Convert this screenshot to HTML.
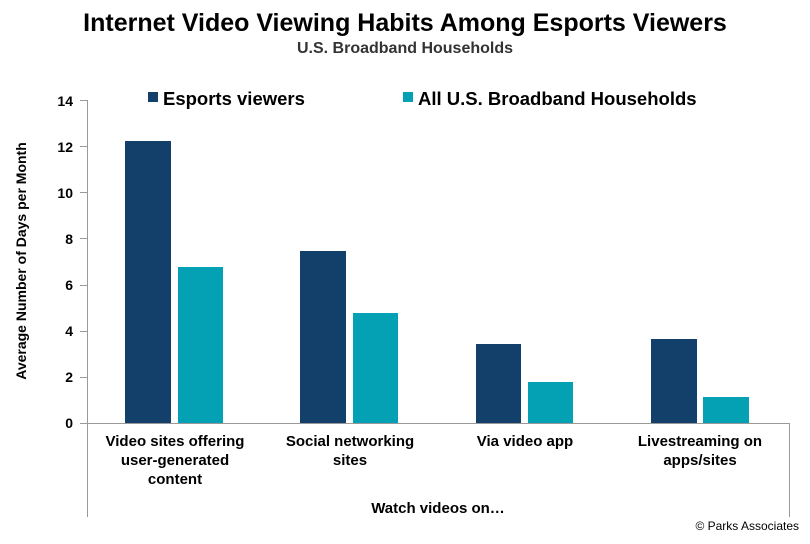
<!DOCTYPE html>
<html><head><meta charset="utf-8"><style>
body{margin:0;background:#fff;}
svg text{font-family:"Liberation Sans",Arial,sans-serif;font-weight:bold;fill:#000;}
</style></head><body>
<svg width="810" height="539" viewBox="0 0 810 539" xmlns="http://www.w3.org/2000/svg">
<rect width="810" height="539" fill="#fff"/>
<text x="405" y="31" font-size="25" text-anchor="middle">Internet Video Viewing Habits Among Esports Viewers</text>
<text x="405" y="53" font-size="16" text-anchor="middle" style="fill:#333">U.S. Broadband Households</text>
<rect x="148" y="92" width="10" height="10" fill="#12406b"/>
<text x="163" y="105" font-size="18.5">Esports viewers</text>
<rect x="403" y="92" width="10" height="10" fill="#04a0b4"/>
<text x="418" y="105" font-size="18.5">All U.S. Broadband Households</text>
<g font-size="14" text-anchor="end">
<text x="73" y="428">0</text><text x="73" y="382">2</text><text x="73" y="336">4</text><text x="73" y="290">6</text><text x="73" y="244">8</text><text x="73" y="198">10</text><text x="73" y="152">12</text><text x="73" y="106">14</text>
</g>
<text transform="translate(26,261) rotate(-90)" font-size="14" text-anchor="middle">Average Number of Days per Month</text>
<g stroke="#999" stroke-width="1" fill="none">
<line x1="87.5" y1="100" x2="87.5" y2="517"/>
<line x1="789.5" y1="423" x2="789.5" y2="517"/>
<line x1="80" y1="423.5" x2="790" y2="423.5"/>
<line x1="80" y1="100.5" x2="87" y2="100.5"/><line x1="80" y1="146.5" x2="87" y2="146.5"/><line x1="80" y1="192.5" x2="87" y2="192.5"/><line x1="80" y1="238.5" x2="87" y2="238.5"/><line x1="80" y1="285.5" x2="87" y2="285.5"/><line x1="80" y1="331.5" x2="87" y2="331.5"/><line x1="80" y1="377.5" x2="87" y2="377.5"/>
</g>
<g fill="#12406b">
<rect x="125" y="141" width="46" height="282"/>
<rect x="300" y="251" width="46" height="172"/>
<rect x="476" y="344" width="45" height="79"/>
<rect x="651" y="339" width="46" height="84"/>
</g>
<g fill="#04a0b4">
<rect x="178" y="267" width="45" height="156"/>
<rect x="353" y="313" width="45" height="110"/>
<rect x="528" y="382" width="45" height="41"/>
<rect x="703" y="397" width="46" height="26"/>
</g>
<g font-size="15" text-anchor="middle">
<text x="175" y="446">Video sites offering</text><text x="175" y="465">user-generated</text><text x="175" y="484">content</text>
<text x="350" y="446">Social networking</text><text x="350" y="465">sites</text>
<text x="525" y="446">Via video app</text>
<text x="700" y="446">Livestreaming on</text><text x="700" y="465">apps/sites</text>
<text x="438" y="513">Watch videos on…</text>
</g>
<text x="799" y="530" font-size="12" text-anchor="end" style="font-weight:normal">© Parks Associates</text>
</svg>
</body></html>
